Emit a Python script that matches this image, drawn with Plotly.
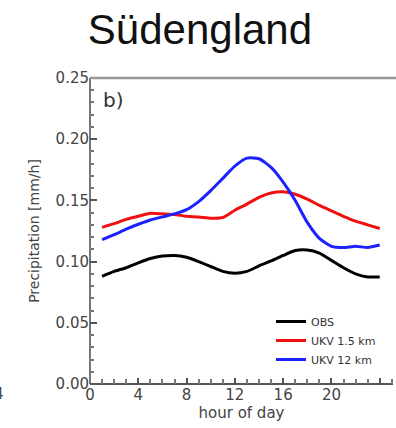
import plotly.graph_objects as go

hours = list(range(1, 25))
obs = [0.088, 0.092, 0.095, 0.099, 0.1025, 0.1045, 0.105, 0.1035, 0.100, 0.096, 0.092, 0.0905,
       0.092, 0.0965, 0.1005, 0.105, 0.109, 0.1095, 0.107, 0.101, 0.095, 0.090, 0.0875, 0.0875]
ukv15 = [0.128, 0.131, 0.1345, 0.137, 0.1395, 0.139, 0.1385, 0.137, 0.1365, 0.1355, 0.136, 0.142,
         0.147, 0.1525, 0.156, 0.157, 0.155, 0.151, 0.146, 0.1415, 0.137, 0.133, 0.130, 0.127]
ukv12 = [0.118, 0.122, 0.1265, 0.1305, 0.134, 0.1365, 0.139, 0.1425, 0.149, 0.158, 0.168, 0.178,
         0.1845, 0.184, 0.177, 0.165, 0.150, 0.132, 0.119, 0.1125, 0.1115, 0.1125, 0.1115, 0.1135]
series_names = ["OBS", "UKV 1.5 km", "UKV 12 km"]
x_tick_step = 4
y_tick_step = 0.05

W, H = 396, 428
L, R, T, B = 90, 3, 78, 44
FONT = "DejaVu Sans"

fig = go.Figure()
for ys, name, col in zip([obs, ukv15, ukv12], series_names, ["black", "#f01010", "#1a22ff"]):
    fig.add_trace(go.Scatter(x=hours, y=ys, mode="lines", name=name,
                             line=dict(color=col, width=3, shape="spline", smoothing=0.6)))

fig.update_layout(
    template="none",
    width=W, height=H,
    margin=dict(l=L, r=R, t=T, b=B),
    title=dict(text="Südengland", x=0.505, xanchor="center", y=1 - 29 / H, yanchor="middle",
               font=dict(family="Liberation Sans, Arial", size=42, color="#111")),
    showlegend=True,
    legend=dict(x=(279 - L - 8) / (W - L - R), y=(H - B - 307) / (H - T - B),
                xanchor="left", yanchor="top",
                font=dict(family=FONT, size=11, color="#333"),
                bgcolor="rgba(0,0,0,0)", tracegroupgap=0, itemwidth=30),
    xaxis=dict(range=[0, 25.1], dtick=x_tick_step,
               labelalias={"24": ""},
               ticks="inside", ticklen=6, tickwidth=2, tickcolor="#555",
               minor=dict(ticks="inside", dtick=1, ticklen=5, tickcolor="#777", tickwidth=1.5),
               gridcolor="rgba(0,0,0,0)",
               zeroline=True, zerolinecolor="#777", zerolinewidth=1.5,
               tickfont=dict(family=FONT, size=15, color="#444"),
               title=dict(text="hour of day", font=dict(family=FONT, size=15, color="#444"), standoff=2)),
    yaxis=dict(range=[0, 0.25], dtick=y_tick_step, tickformat=".2f",
               ticks="inside", ticklen=7, tickwidth=2, tickcolor="#555",
               minor=dict(ticks="inside", dtick=0.01, ticklen=4, tickcolor="#777", tickwidth=1.5),
               gridcolor="rgba(0,0,0,0)",
               zeroline=True, zerolinecolor="#555", zerolinewidth=1.5,
               tickfont=dict(family=FONT, size=15, color="#444"),
               title=dict(text="Precipitation [mm/h]", font=dict(family=FONT, size=14, color="#444"), standoff=12)),
)

# top frame line
fig.add_shape(type="line", xref="paper", yref="paper", x0=0, x1=1.02, y0=1, y1=1,
              line=dict(color="#999", width=2.5))

fig.add_annotation(text="b)", xref="paper", yref="paper", x=(101 - L) / (W - L - R), y=(H - B - 100) / (H - T - B),
                   xanchor="left", yanchor="middle", showarrow=False,
                   font=dict(family=FONT, size=20, color="#333"))
fig.add_annotation(text="4", xref="paper", yref="paper", x=(6 - L) / (W - L - R), y=(H - B - 394) / (H - T - B),
                   xanchor="right", yanchor="middle", showarrow=False,
                   font=dict(family=FONT, size=15, color="#444"))

fig.write_html("out.html")
